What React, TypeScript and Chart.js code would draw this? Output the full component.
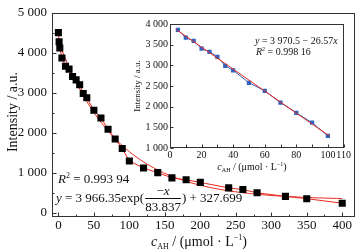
import React, { useEffect, useRef } from 'react';
import { Chart, registerables } from 'chart.js';
Chart.register(...registerables);

// ---- data ----
const concentrations = [0, 1, 2, 5, 10, 15, 20, 25, 30, 35, 40, 50, 60, 70, 80, 90, 100, 120, 140, 160, 180, 200, 240, 260, 280, 320, 350, 400];
const intensities = [4505, 4276, 4122, 3870, 3666, 3593, 3407, 3325, 3203, 2983, 2878, 2568, 2373, 2090, 1846, 1610, 1300, 1122, 1008, 878, 829, 764, 627, 585, 504, 415, 358, 244];
const insetConcentrations = [5, 10, 15, 20, 25, 30, 35, 40, 50, 60, 70, 80, 90, 100];
const insetIntensities = [3860, 3668, 3590, 3404, 3328, 3207, 2987, 2880, 2578, 2383, 2095, 1852, 1612, 1292];

const mainXTicks = [0, 50, 100, 150, 200, 250, 300, 350, 400];
const mainXMinor = [25, 75, 125, 175, 225, 275, 325, 375];
const mainYTicks = [0, 1000, 2000, 3000, 4000, 5000];
const mainYMinor = [500, 1500, 2500, 3500, 4500];
const insetXTicks = [0, 10, 20, 30, 40, 50, 60, 70, 80, 90, 100, 110];
const insetXLabeled = [0, 20, 40, 60, 80, 100, 110];
const insetYTicks = [1000, 1500, 2000, 2500, 3000, 3500, 4000];

// printed fit equations
const expA = 3966.35;
const expT = 83.837;
const expC = 327.699;
const expFitX = Array.from({ length: 101 }, (_, i) => i * 4);
const linA = 3970.5;
const linB = -26.57;
const linFitX = [4, 101];

const RED = '#e8291f';
const BLUE = '#2f63c0';
const FRAME = '#333333';
const SERIF = '"Liberation Serif", "DejaVu Serif", serif';

const fmt = (v: number) => {
  if (v < 1000) return String(v);
  const th = Math.floor(v / 1000);
  const rest = String(Math.round(v % 1000)).padStart(3, '0');
  return `${th} ${rest}`;
};

type Seg = { t: string; size: number; italic?: boolean; dy?: number };
function drawRich(ctx: CanvasRenderingContext2D, segs: Seg[], x: number, y: number, align: 'left' | 'center' = 'left') {
  ctx.save();
  ctx.textBaseline = 'alphabetic';
  ctx.textAlign = 'left';
  let total = 0;
  for (const s of segs) {
    ctx.font = `${s.italic ? 'italic ' : ''}${s.size}px ${SERIF}`;
    total += ctx.measureText(s.t).width;
  }
  let cx = align === 'center' ? x - total / 2 : x;
  for (const s of segs) {
    ctx.font = `${s.italic ? 'italic ' : ''}${s.size}px ${SERIF}`;
    ctx.fillText(s.t, cx, y + (s.dy || 0));
    cx += ctx.measureText(s.t).width;
  }
  ctx.restore();
  return cx;
}

function makeFramePlugin(opts: {
  xMajor: number[]; xMinor: number[]; yMajor: number[]; yMinor: number[]; major: number; minor: number; extra: (c: Chart) => void;
}) {
  return {
    id: 'frameTicks',
    beforeDatasetsDraw(chart: any) {
      const { ctx, chartArea: a } = chart;
      ctx.save();
      ctx.fillStyle = '#ffffff';
      ctx.fillRect(a.left, a.top, a.right - a.left, a.bottom - a.top);
      ctx.restore();
    },
    afterDraw(chart: any) {
      const { ctx, chartArea: a, scales } = chart;
      ctx.save();
      ctx.strokeStyle = FRAME;
      ctx.lineWidth = 1;
      ctx.strokeRect(Math.round(a.left) + 0.5, Math.round(a.top) + 0.5, Math.round(a.right - a.left) - 1, Math.round(a.bottom - a.top) - 1);
      ctx.beginPath();
      const xs = scales.x, ys = scales.y;
      const b = Math.round(a.bottom) - 0.5;
      const l = Math.round(a.left) + 0.5;
      for (const v of opts.xMajor) { const p = Math.round(xs.getPixelForValue(v)) + 0.5; ctx.moveTo(p, b); ctx.lineTo(p, b - opts.major); }
      for (const v of opts.xMinor) { const p = Math.round(xs.getPixelForValue(v)) + 0.5; ctx.moveTo(p, b); ctx.lineTo(p, b - opts.minor); }
      for (const v of opts.yMajor) { const p = Math.round(ys.getPixelForValue(v)) + 0.5; ctx.moveTo(l, p); ctx.lineTo(l + opts.major, p); }
      for (const v of opts.yMinor) { const p = Math.round(ys.getPixelForValue(v)) + 0.5; ctx.moveTo(l, p); ctx.lineTo(l + opts.minor, p); }
      ctx.stroke();
      ctx.restore();
      ctx.save();
      ctx.fillStyle = '#111111';
      opts.extra(chart);
      ctx.restore();
    },
  };
}

export default function App() {
  const mainRef = useRef<HTMLCanvasElement>(null);
  const insetRef = useRef<HTMLCanvasElement>(null);

  useEffect(() => {
    const mainPlugin = makeFramePlugin({
      xMajor: mainXTicks, xMinor: mainXMinor, yMajor: mainYTicks, yMinor: mainYMinor, major: 4, minor: 2,
      extra: (chart: any) => {
        const ctx = chart.ctx as CanvasRenderingContext2D;
        // y title
        ctx.save();
        ctx.translate(13, 112);
        ctx.rotate(-Math.PI / 2);
        ctx.font = `14px ${SERIF}`;
        ctx.textAlign = 'center';
        ctx.textBaseline = 'middle';
        ctx.fillText('Intensity / a.u.', 0, 0);
        ctx.restore();
        // x title
        drawRich(ctx, [
          { t: 'c', size: 14, italic: true },
          { t: 'AH', size: 8, dy: 3 },
          { t: ' / (μmol · L', size: 14 },
          { t: '−1', size: 8, dy: -6 },
          { t: ')', size: 14 },
        ], 199, 246, 'center');
        // R^2
        drawRich(ctx, [
          { t: 'R', size: 13, italic: true },
          { t: '2', size: 8, dy: -5 },
          { t: ' = 0.993 94', size: 13 },
        ], 58, 183);
        // equation
        const endX = drawRich(ctx, [
          { t: 'y', size: 13, italic: true },
          { t: ' = 3 966.35exp(', size: 13 },
        ], 56, 202);
        ctx.save();
        ctx.font = `13px ${SERIF}`;
        const w = ctx.measureText('83.837').width;
        ctx.restore();
        const fx = endX + 1;
        drawRich(ctx, [{ t: '−', size: 13 }, { t: 'x', size: 13, italic: true }], fx + w / 2, 195, 'center');
        ctx.save();
        ctx.strokeStyle = '#111';
        ctx.lineWidth = 1;
        ctx.beginPath();
        ctx.moveTo(fx, 198.5);
        ctx.lineTo(fx + w, 198.5);
        ctx.stroke();
        ctx.restore();
        drawRich(ctx, [{ t: '83.837', size: 13 }], fx, 211);
        drawRich(ctx, [{ t: ') + 327.699', size: 13 }], fx + w + 1, 202);
      },
    });

    const main = new Chart(mainRef.current!, {
      type: 'scatter',
      data: {
        datasets: [
          {
            data: concentrations.map((x, i) => ({ x, y: intensities[i] })),
            showLine: true,
            borderColor: RED,
            borderWidth: 1,
            pointStyle: 'rect',
            pointRadius: 5,
            pointBackgroundColor: '#000',
            pointBorderColor: '#000',
            pointBorderWidth: 0,
          },
          {
            data: expFitX.map((x) => ({ x, y: expA * Math.exp(-x / expT) + expC })),
            showLine: true,
            borderColor: RED,
            borderWidth: 1,
            pointRadius: 0,
          },
        ],
      },
      options: {
        animation: false,
        responsive: false,
        devicePixelRatio: 1,
        layout: { padding: { left: 0, right: 8, top: 8, bottom: 0 } },
        plugins: { legend: { display: false }, tooltip: { enabled: false } },
        scales: {
          x: {
            type: 'linear', min: -9, max: 418,
            grid: { display: false, drawTicks: false },
            border: { display: false },
            afterBuildTicks: (s: any) => { s.ticks = mainXTicks.map((v) => ({ value: v })); },
            afterFit: (s: any) => { s.height = 35; },
            ticks: { padding: 1, color: '#111', font: { family: SERIF, size: 13 }, maxRotation: 0, autoSkip: false, callback: (v: any) => fmt(Number(v)) },
          },
          y: {
            type: 'linear', min: -100, max: 5000,
            grid: { display: false, drawTicks: false },
            border: { display: false },
            afterBuildTicks: (s: any) => { s.ticks = mainYTicks.map((v) => ({ value: v })); },
            afterFit: (s: any) => { s.width = 52; },
            ticks: { padding: 5, color: '#111', font: { family: SERIF, size: 13 }, autoSkip: false, callback: (v: any) => fmt(Number(v)) },
          },
        },
      },
      plugins: [mainPlugin],
    } as any);

    const insetPlugin = makeFramePlugin({
      xMajor: insetXTicks, xMinor: [], yMajor: insetYTicks, yMinor: [], major: 3, minor: 2,
      extra: (chart: any) => {
        const ctx = chart.ctx as CanvasRenderingContext2D;
        ctx.save();
        ctx.translate(10, 72);
        ctx.rotate(-Math.PI / 2);
        ctx.font = `9px ${SERIF}`;
        ctx.textAlign = 'center';
        ctx.textBaseline = 'middle';
        ctx.fillText('Intensity / a.u.', 0, 0);
        ctx.restore();
        drawRich(ctx, [
          { t: 'c', size: 10, italic: true },
          { t: 'AH', size: 6, dy: 2 },
          { t: ' / (μmol · L', size: 10 },
          { t: '−1', size: 6, dy: -4 },
          { t: ')', size: 10 },
        ], 124, 156, 'center');
        drawRich(ctx, [
          { t: 'y', size: 10, italic: true },
          { t: ' = 3 970.5 − 26.57', size: 10 },
          { t: 'x', size: 10, italic: true },
        ], 127, 30);
        drawRich(ctx, [
          { t: 'R', size: 10, italic: true },
          { t: '2', size: 6, dy: -4 },
          { t: ' = 0.998 16', size: 10 },
        ], 128, 41);
      },
    });

    const inset = new Chart(insetRef.current!, {
      type: 'scatter',
      data: {
        datasets: [
          {
            data: linFitX.map((x) => ({ x, y: linA + linB * x })),
            showLine: true,
            borderColor: RED,
            borderWidth: 1,
            pointRadius: 0,
          },
          {
            data: insetConcentrations.map((x, i) => ({ x, y: insetIntensities[i] })),
            showLine: true,
            borderColor: BLUE,
            borderWidth: 1,
            pointStyle: 'rect',
            pointRadius: 3,
            pointBackgroundColor: BLUE,
            pointBorderColor: BLUE,
            pointBorderWidth: 0,
          },
        ],
      },
      options: {
        animation: false,
        responsive: false,
        devicePixelRatio: 1,
        layout: { padding: { left: 0, right: 4, top: 10, bottom: 0 } },
        plugins: { legend: { display: false }, tooltip: { enabled: false } },
        scales: {
          x: {
            type: 'linear', min: 0, max: 110,
            grid: { display: false, drawTicks: false },
            border: { display: false },
            afterBuildTicks: (s: any) => { s.ticks = insetXTicks.map((v) => ({ value: v })); },
            afterFit: (s: any) => { s.height = 34; },
            ticks: {
              padding: 1, color: '#111', font: { family: SERIF, size: 10 }, maxRotation: 0, autoSkip: false,
              callback: (v: any) => (insetXLabeled.includes(Number(v)) ? String(v) : ''),
            },
          },
          y: {
            type: 'linear', min: 1000, max: 4000,
            grid: { display: false, drawTicks: false },
            border: { display: false },
            afterBuildTicks: (s: any) => { s.ticks = insetYTicks.map((v) => ({ value: v })); },
            afterFit: (s: any) => { s.width = 42; },
            ticks: { padding: 2, color: '#111', font: { family: SERIF, size: 10 }, autoSkip: false, callback: (v: any) => fmt(Number(v)) },
          },
        },
      },
      plugins: [insetPlugin],
    } as any);

    return () => {
      main.destroy();
      inset.destroy();
    };
  }, []);

  return (
    <div style={{ position: 'fixed', left: 0, top: 0, width: 363, height: 252, background: '#fff' }}>
      <canvas ref={mainRef} width={363} height={252} style={{ position: 'absolute', left: 0, top: 0 }} />
      <canvas ref={insetRef} width={224} height={168} style={{ position: 'absolute', left: 128, top: 14 }} />
    </div>
  );
}
